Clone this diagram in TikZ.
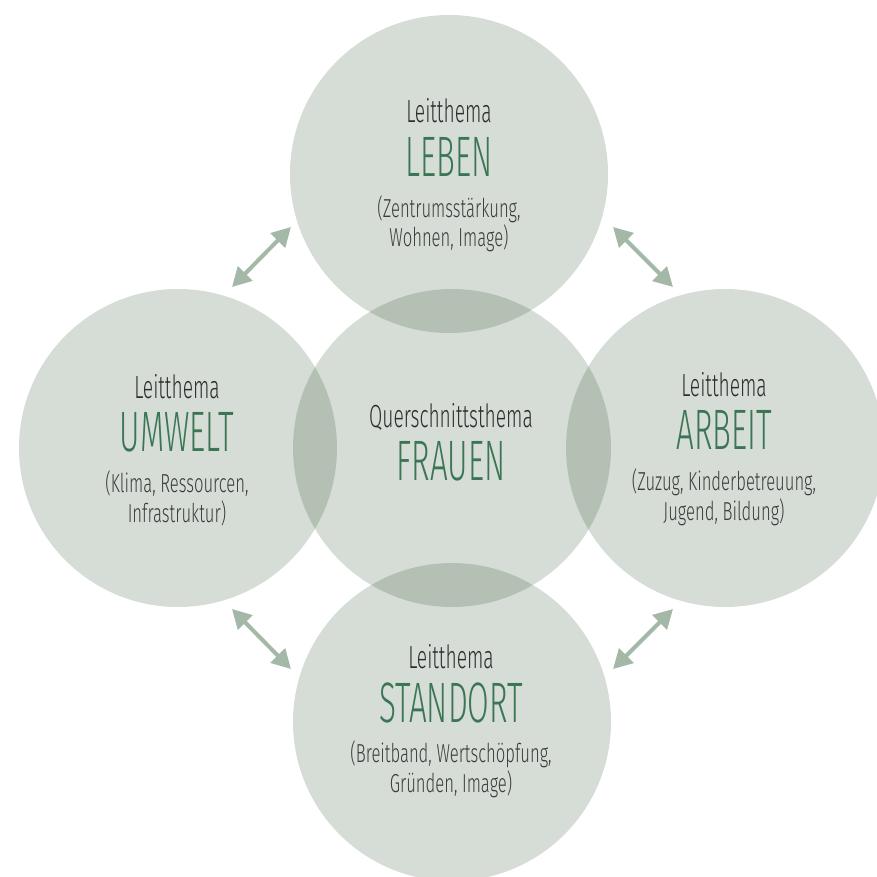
\documentclass[tikz,border=0pt]{standalone}
\usepackage{fontspec}
\setmainfont{Fira Sans}[UprightFont=* Light]
\newfontfamily\leadfont{Fira Sans}[UprightFont=* Light, FakeStretch=0.6]
\newfontfamily\titlefont{Fira Sans}[UprightFont=* Light, FakeStretch=0.55]
\newfontfamily\notefont{Fira Sans}[UprightFont=* Light, FakeStretch=0.64]
\usetikzlibrary{arrows.meta}
\definecolor{discgreen}{RGB}{50,80,50}
\definecolor{titlegreen}{RGB}{58,118,84}
\definecolor{leadgray}{RGB}{45,45,45}
\definecolor{notegray}{RGB}{60,60,60}
\definecolor{arrowgreen}{RGB}{163,184,167}
\tikzset{
  disc/.style={circle, minimum size=318pt, inner sep=0pt, fill=discgreen, fill opacity=0.2, draw=none},
  lead/.style={anchor=base, inner sep=0pt, text=leadgray, font=\leadfont\fontsize{32}{32}\selectfont},
  title/.style={anchor=base, inner sep=0pt, text=titlegreen, font=\titlefont\fontsize{57}{57}\selectfont},
  note/.style={anchor=base, inner sep=0pt, text=notegray, align=center, font=\notefont\fontsize{26}{26}\selectfont},
  link/.style={draw=arrowgreen, line width=4pt, {Triangle[length=19pt,width=20pt]}-{Triangle[length=19pt,width=20pt]}}
}
\begin{document}
\begin{tikzpicture}[x=1pt, y=-1pt]
\useasboundingbox (0,0) rectangle (877,877);
% five overlapping discs
\node[disc] (top) at (449,174) {};
\node[disc] (mid) at (452,448) {};
\node[disc] (left) at (178,448) {};
\node[disc] (right) at (725,448) {};
\node[disc] (bot) at (452,722) {};
% top: LEBEN
\node[lead] (topLead) at (449,123) {Leitthema};
\node[title] (topTitle) at (449,177) {LEBEN};
\node[note] (topNote1) at (449,218) {(Zentrumsstärkung,};
\node[note] (topNote2) at (449,247) {Wohnen, Image)};
% centre: FRAUEN
\node[lead] (midLead) at (451,427) {Querschnittsthema};
\node[title] (midTitle) at (451,480) {FRAUEN};
% left: UMWELT
\node[lead] (leftLead) at (177,398) {Leitthema};
\node[title] (leftTitle) at (177,451) {UMWELT};
\node[note] (leftNote1) at (177,492) {(Klima, Ressourcen,};
\node[note] (leftNote2) at (177,522) {Infrastruktur)};
% right: ARBEIT
\node[lead] (rightLead) at (724,396) {Leitthema};
\node[title] (rightTitle) at (724,449) {ARBEIT};
\node[note] (rightNote1) at (724,490) {(Zuzug, Kinderbetreuung,};
\node[note] (rightNote2) at (724,520) {Jugend, Bildung)};
% bottom: STANDORT
\node[lead] (botLead) at (451,668) {Leitthema};
\node[title] (botTitle) at (451,722) {STANDORT};
\node[note] (botNote1) at (451,762) {(Breitband, Wertschöpfung,};
\node[note] (botNote2) at (451,792) {Gründen, Image)};
% arrow end points between neighbouring discs
\coordinate (tlA) at (232,287); \coordinate (tlB) at (291,227);
\coordinate (trA) at (613,227); \coordinate (trB) at (673,287);
\coordinate (blA) at (232,609); \coordinate (blB) at (291,669);
\coordinate (brA) at (613,669); \coordinate (brB) at (673,609);
\draw[link] (tlA) -- (tlB);
\draw[link] (trA) -- (trB);
\draw[link] (blA) -- (blB);
\draw[link] (brA) -- (brB);
\end{tikzpicture}
\end{document}
